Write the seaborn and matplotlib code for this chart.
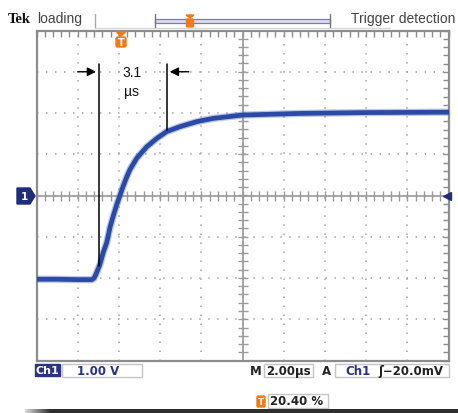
import numpy as np
import matplotlib
matplotlib.use("Agg")
import matplotlib.pyplot as plt
import seaborn as sns
from matplotlib.patches import Rectangle, Polygon, FancyBboxPatch
from matplotlib.ticker import MultipleLocator

# trace: time from left edge of graticule (us), volts
t_us = [0.0, 1.0, 2.0, 2.69, 2.80, 2.92, 3.08, 3.24, 3.41, 3.57, 3.73, 3.89,
        4.05, 4.21, 4.38, 4.54, 4.86, 5.35, 5.83, 6.32, 6.97, 7.78, 8.58,
        10.0, 12.8, 16.0, 20.0]
volts = [-2.03, -2.03, -2.04, -2.04, -2.0, -1.87, -1.67, -1.38, -1.14, -0.77,
         -0.49, -0.23, 0.0, 0.23, 0.45, 0.63, 0.90, 1.18, 1.38, 1.55, 1.67,
         1.79, 1.87, 1.95, 1.99, 2.01, 2.02]

# cursor markers for the rise time
cursor_t = [3.03, 6.33]
cursor_low = [-1.70, 1.58]
rise_label = "3.1\nµs"

# readouts
ch_scale = "1.00 V"
time_scale = "2.00µs"
trig_ch = "Ch1"
trig_level = "ʃ−20.0mV"
trig_pos = "20.40 %"

W, H = 458, 414
sns.set_style("white")
plt.rcParams['font.family'] = ['DejaVu Sans']

fig = plt.figure(figsize=(W / 100, H / 100), dpi=100)
fig.patch.set_facecolor("white")


def fx(px):
    return px / W


def fy(py):
    return 1 - py / H


ax = fig.add_axes([fx(36.5), fy(361.5), 412 / W, 330 / H])
ax.set_xlim(0, 20)
ax.set_ylim(-4, 4)

# graticule
ax.xaxis.set_major_locator(MultipleLocator(2))
ax.yaxis.set_major_locator(MultipleLocator(1))
ax.xaxis.set_minor_locator(MultipleLocator(0.4))
ax.yaxis.set_minor_locator(MultipleLocator(0.2))
ax.grid(True, which="major", color="#9a9a9a", linestyle=(0, (0.9, 5.0)), linewidth=1.1)
ax.tick_params(which="both", direction="in", length=4, width=1, color="#8c8c8c",
               top=True, right=True, labelbottom=False, labelleft=False)
for s in ax.spines.values():
    s.set_color("#8c8c8c")
    s.set_linewidth(1.6)

ax.axhline(0, color="#9a9a9a", lw=1.2, zorder=1)
ax.axvline(10, color="#9a9a9a", lw=1.2, zorder=1)
xt = np.arange(0, 20.01, 0.4)
yt = np.arange(-4, 4.01, 0.2)
ax.plot(xt, np.zeros_like(xt), ls="none", marker="|", ms=7, mew=1, color="#9a9a9a", zorder=1)
ax.plot(np.full_like(yt, 10), yt, ls="none", marker="_", ms=7, mew=1, color="#9a9a9a", zorder=1)

# waveform
sns.lineplot(x=t_us, y=volts, ax=ax, color="#5670c4", linewidth=5.2, alpha=0.4, zorder=3)
sns.lineplot(x=t_us, y=volts, ax=ax, color="#2a4aa5", linewidth=3.4, zorder=4)

# rise-time cursors
for t, lo in zip(cursor_t, cursor_low):
    ax.plot([t, t], [lo, 3.19], color="black", lw=1.1, zorder=5)
ax.annotate("", xy=(cursor_t[0], 3.0), xytext=(1.87, 3.0),
            arrowprops=dict(arrowstyle="-|>", color="black", lw=1, mutation_scale=13))
ax.annotate("", xy=(cursor_t[1], 3.0), xytext=(7.53, 3.0),
            arrowprops=dict(arrowstyle="-|>", color="black", lw=1, mutation_scale=13))
ax.text(4.62, 2.76, rise_label, ha="center", va="center", fontsize=10,
        family="Liberation Sans", linespacing=1.45, color="#111")

# level marker on the right and ground marker on the left
ax.plot([19.93], [0], marker="<", ms=6, color="#1f2d7a", clip_on=False, zorder=6)
fig.add_artist(Polygon([(fx(17), fy(189)), (fx(30), fy(189)), (fx(35), fy(197)),
                        (fx(30), fy(205)), (fx(17), fy(205))],
                       closed=True, transform=fig.transFigure, color="#1f2d7a"))
fig.text(fx(24), fy(197.5), "1", color="white", fontsize=7.5, fontweight="bold",
         ha="center", va="center")

# trigger position marker under the top edge
fig.add_artist(Polygon([(fx(116.5), fy(33)), (fx(125.5), fy(33)), (fx(121), fy(37))],
                       closed=True, transform=fig.transFigure, color="#f07a1a"))
fig.add_artist(FancyBboxPatch((fx(116), fy(48)), fx(10), 10 / H,
                              boxstyle="round,pad=0,rounding_size=0.004",
                              transform=fig.transFigure, color="#f07a1a"))
fig.text(fx(121), fy(42.5), "T", color="white", fontsize=7, fontweight="bold",
         ha="center", va="center")

# header
fig.text(fx(8), fy(23), "Tek", family="Liberation Serif", fontweight="bold",
         fontsize=10.5, color="#111", va="baseline")
fig.text(fx(37), fy(23), "loading", family="Liberation Sans", fontsize=10,
         color="#444", va="baseline")
fig.text(fx(455), fy(23), "Trigger detection", family="Liberation Sans", fontsize=10,
         color="#444", va="baseline", ha="right")
fig.add_artist(plt.Line2D([fx(95), fx(95)], [fy(15), fy(29)], color="#aaaaaa", lw=1))
fig.add_artist(plt.Line2D([fx(95), fx(390)], [fy(28.5), fy(28.5)], color="#d4d4d4", lw=0.8))
for bx in (155, 330):
    fig.add_artist(plt.Line2D([fx(bx), fx(bx)], [fy(15), fy(28)], color="#777777", lw=1))
fig.add_artist(Rectangle((fx(155), fy(24)), fx(175), 4 / H, transform=fig.transFigure,
                         facecolor="#dcdcf0", edgecolor="#7a7ab0", lw=0.9))
fig.add_artist(Polygon([(fx(186), fy(16)), (fx(194), fy(16)), (fx(190), fy(19))],
                       closed=True, transform=fig.transFigure, color="#f07a1a"))
fig.add_artist(FancyBboxPatch((fx(186.5), fy(28)), fx(7), 8 / H,
                              boxstyle="round,pad=0,rounding_size=0.003",
                              transform=fig.transFigure, color="#f07a1a"))

# status bar
navy = "#27318a"
fig.add_artist(Rectangle((fx(35), fy(377)), fx(25), 12 / H, transform=fig.transFigure,
                         color="#2a3384"))
fig.text(fx(47.5), fy(371), "Ch1", color="white", fontsize=8, fontweight="bold",
         ha="center", va="center")


def box(x0, x1, y0, y1):
    fig.add_artist(Rectangle((fx(x0), fy(y1)), fx(x1 - x0), (y1 - y0) / H,
                             transform=fig.transFigure, facecolor="white",
                             edgecolor="#c4c4c4", lw=1))


box(62, 142, 365, 378)
fig.text(fx(77), fy(371.5), ch_scale, color=navy, fontsize=8.5, fontweight="bold",
         va="center")
fig.text(fx(250), fy(371.5), "M", color="#222", fontsize=8.5, fontweight="bold", va="center")
box(264, 313, 365, 378)
fig.text(fx(266), fy(371.5), time_scale, color="#222", fontsize=8.5, fontweight="bold",
         va="center")
fig.text(fx(322), fy(371.5), "A", color="#222", fontsize=8.5, fontweight="bold", va="center")
box(335, 449, 365, 378)
fig.text(fx(345), fy(371.5), trig_ch, color=navy, fontsize=8.5, fontweight="bold",
         va="center")
fig.text(fx(378), fy(371.5), trig_level, color="#222", fontsize=8.5, fontweight="bold",
         va="center")

fig.add_artist(FancyBboxPatch((fx(257), fy(408)), fx(8), 11 / H,
                              boxstyle="round,pad=0,rounding_size=0.003",
                              transform=fig.transFigure, color="#f07a1a"))
fig.text(fx(261), fy(402.5), "T", color="white", fontsize=6.5, fontweight="bold",
         ha="center", va="center")
box(268, 328, 395, 409)
fig.text(fx(270), fy(402), trig_pos, color="#222", fontsize=8.5, fontweight="bold",
         va="center")

# dark bar at the bottom, fading in from the left
grad = np.linspace(0.85, 0.2, 25)
for i, g in enumerate(grad):
    fig.add_artist(Rectangle((fx(25 + i), fy(414)), fx(1.2), 4 / H,
                             transform=fig.transFigure, color=str(g), lw=0))
fig.add_artist(Rectangle((fx(50), fy(414)), fx(408), 4 / H, transform=fig.transFigure,
                         color="#2e2e2e", lw=0))

fig.savefig("out.png", dpi=100)
